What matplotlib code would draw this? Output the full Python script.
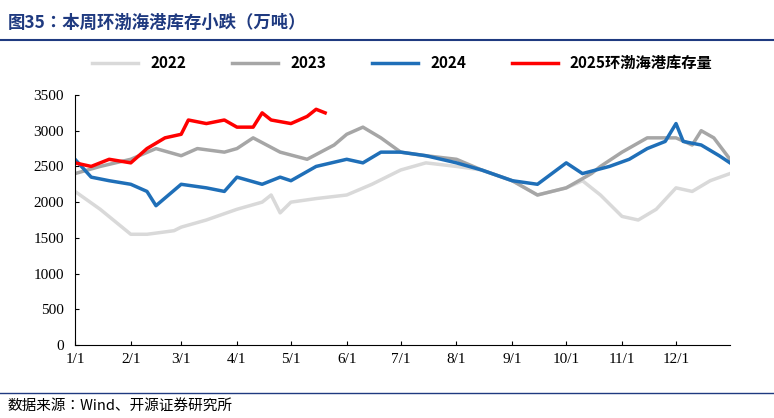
import matplotlib
matplotlib.use("Agg")
import matplotlib.pyplot as plt
import datetime as dt

CJK = ["Noto Sans CJK SC", "Noto Sans CJK JP", "Noto Sans CJK TC", "DejaVu Sans"]
plt.rcParams["font.family"] = CJK

d2022 = ["1/1","1/15","2/1","2/10","2/25","3/1","3/15","4/1","4/15","4/20","4/25","5/1","5/15","6/1","6/15","7/1","7/15","8/1","8/15","9/1","9/15","10/1","10/10","10/20","11/1","11/10","11/20","12/1","12/10","12/20","12/31"]
v2022 = [2150,1900,1550,1550,1600,1650,1750,1900,2000,2100,1850,2000,2050,2100,2250,2450,2550,2500,2450,2300,2100,2200,2300,2100,1800,1750,1900,2200,2150,2300,2400]
d2023 = ["1/1","1/15","2/1","2/15","3/1","3/10","3/25","4/1","4/10","4/25","5/10","5/25","6/1","6/10","6/20","7/1","7/15","8/1","8/15","9/1","9/15","10/1","10/15","10/20","11/1","11/15","12/1","12/10","12/15","12/22","12/31"]
v2023 = [2400,2500,2600,2750,2650,2750,2700,2750,2900,2700,2600,2800,2950,3050,2900,2700,2650,2600,2450,2300,2100,2200,2400,2500,2700,2900,2900,2800,3000,2900,2600]
d2024 = ["1/1","1/10","1/20","2/1","2/10","2/15","3/1","3/15","3/25","4/1","4/15","4/25","5/1","5/15","6/1","6/10","6/20","7/1","7/15","8/1","8/15","9/1","9/15","10/1","10/10","10/25","11/5","11/15","11/25","12/1","12/5","12/15","12/25","12/31"]
v2024 = [2600,2350,2300,2250,2150,1950,2250,2200,2150,2350,2250,2350,2300,2500,2600,2550,2700,2700,2650,2550,2450,2300,2250,2550,2400,2500,2600,2750,2850,3100,2850,2800,2650,2550]
d2025 = ["1/1","1/10","1/20","2/1","2/10","2/20","3/1","3/5","3/15","3/25","4/1","4/10","4/15","4/20","5/1","5/10","5/15","5/20"]
v2025 = [2550,2500,2600,2550,2750,2900,2950,3150,3100,3150,3050,3050,3250,3150,3100,3200,3300,3250]
xticks = ["1/1","2/1","3/1","4/1","5/1","6/1","7/1","8/1","9/1","10/1","11/1","12/1"]

def doy(s):
    m, d = map(int, s.split("/"))
    return (dt.date(2021, m, d) - dt.date(2021, 1, 1)).days

fig = plt.figure(figsize=(7.74, 4.18), dpi=100)
ax = fig.add_axes([75/774, 73/418, 655/774, 250/418])
ax.plot([doy(s) for s in d2022], v2022, color="#d9d9d9", lw=2.5, label="2022")
ax.plot([doy(s) for s in d2023], v2023, color="#a6a6a6", lw=2.5, label="2023")
ax.plot([doy(s) for s in d2024], v2024, color="#1f6fb8", lw=2.5, label="2024")
ax.plot([doy(s) for s in d2025], v2025, color="#ff0000", lw=2.5, label="2025环渤海港库存量")
ax.set_xlim(0, 364)
ax.set_ylim(0, 3500)
ax.set_yticks(range(0, 3501, 500))
ax.set_xticks([doy(s) for s in xticks])
ax.set_xticklabels(xticks, fontfamily="Liberation Serif")
for t in ax.get_yticklabels():
    t.set_fontfamily("Liberation Serif")
ax.tick_params(labelsize=11, direction="in", length=3)
ax.tick_params(axis="y", pad=8)
ax.tick_params(axis="x", pad=6)
for s in ["top", "right"]:
    ax.spines[s].set_visible(False)
ax.legend(loc="lower center", bbox_to_anchor=(0.5, 1.04), ncol=4, frameon=False,
          prop={"family": CJK, "weight": "bold", "size": 11},
          handlelength=3, columnspacing=3)
fig.text(0.01, 0.945, "图35：本周环渤海港库存小跌（万吨）", color="#1f3a80", fontsize=12.5,
         weight="bold", va="center", fontfamily=CJK)
fig.add_artist(plt.Line2D([0, 1], [0.905, 0.905], color="#1f3a80", lw=1.5))
fig.add_artist(plt.Line2D([0, 1], [0.06, 0.06], color="#1f3a80", lw=1))
fig.text(0.01, 0.03, "数据来源：Wind、开源证券研究所", fontsize=10.5, va="center", fontfamily=CJK)
fig.savefig("out.png", dpi=100)
